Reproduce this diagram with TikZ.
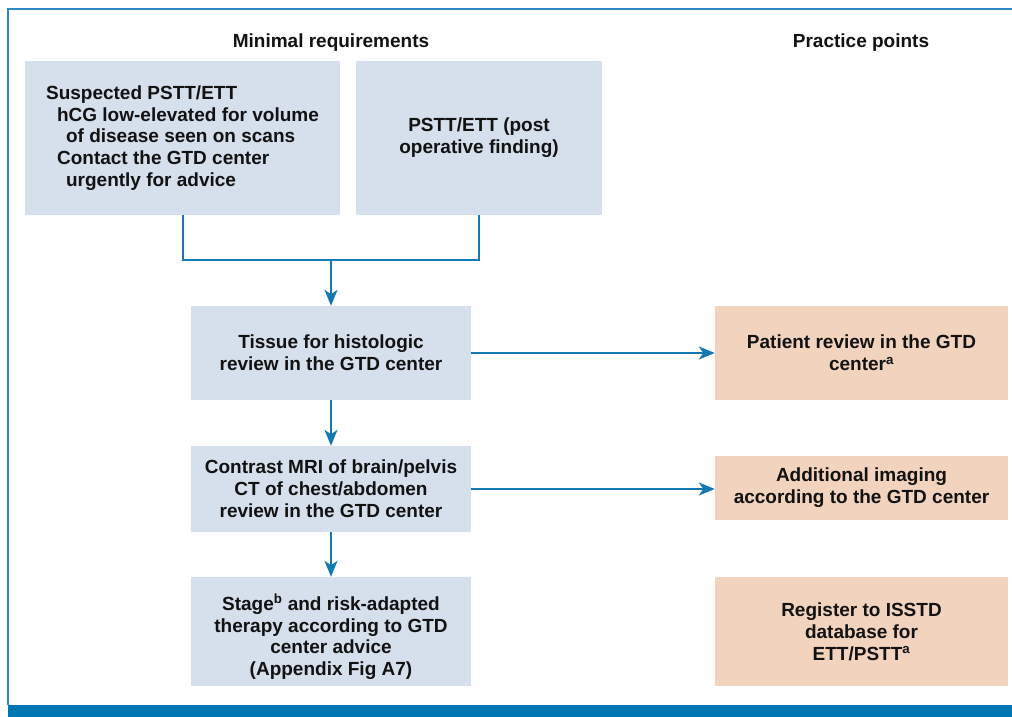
\documentclass[tikz,border=0pt]{standalone}
\usepackage{fontspec}
\setmainfont{Liberation Sans}
\usetikzlibrary{arrows.meta}
\definecolor{framec}{HTML}{2A8BC2}
\definecolor{barc}{HTML}{0076B1}
\definecolor{linec}{HTML}{1279B3}
\definecolor{bluebox}{HTML}{D6DFEC}
\definecolor{peachbox}{HTML}{F2D3BE}
\tikzset{
  txt/.style={font=\fontsize{19}{21.8}\selectfont\bfseries, text=black!93, inner sep=0pt},
  bbox/.style={txt, fill=bluebox, align=center},
  pbox/.style={txt, fill=peachbox, align=center},
  conn/.style={draw=linec, line width=2pt},
  arr/.style={conn, -{Stealth[length=16pt,width=13pt,inset=4.5pt]}},
}
\begin{document}
\begin{tikzpicture}[x=1pt,y=-1pt]
\useasboundingbox (0,0) rectangle (1012,717);
% frame
\fill[barc] (8,705) rectangle (1012,717);
\draw[framec, line width=1.5pt] (8,705) -- (8,9) -- (1012,9);
% titles
\node[txt] (t1) at (331,43) {Minimal requirements};
\node[txt] (t2) at (861,43) {Practice points};
% boxes
\node[bbox, align=left, minimum width=315pt, minimum height=154pt] (A) at (182.5,138)
  {Suspected PSTT/ETT\\
   \hspace*{11pt}hCG low-elevated for volume\\
   \hspace*{20pt}of disease seen on scans\\
   \hspace*{11pt}Contact the GTD center\\
   \hspace*{20pt}urgently for advice};
\node[bbox, minimum width=246pt, minimum height=154pt] (B) at (479,138)
  {PSTT/ETT (post\\operative finding)};
\node[bbox, minimum width=280pt, minimum height=94pt] (C) at (331,353)
  {Tissue for histologic\\review in the GTD center};
\node[pbox, minimum width=293pt, minimum height=94pt] (D) at (861.5,353)
  {Patient review in the GTD\\center\textsuperscript{a}};
\node[bbox, minimum width=280pt, minimum height=86pt] (E) at (331,489)
  {Contrast MRI of brain/pelvis\\CT of chest/abdomen\\review in the GTD center};
\node[pbox, minimum width=293pt, minimum height=64pt] (F) at (861.5,488)
  {Additional imaging\\according to the GTD center};
\node[bbox, minimum width=280pt, minimum height=109pt] (G) at (331,631.5) {};
\node[txt, align=center] (Gt) at (331,637)
  {Stage\textsuperscript{b} and risk-adapted\\therapy according to GTD\\center advice\\(Appendix Fig A7)};
\node[pbox, minimum width=293pt, minimum height=109pt] (H) at (861.5,631.5)
  {Register to ISSTD\\database for\\ETT/PSTT\textsuperscript{a}};
% connectors
\coordinate (J) at (331,260);
\draw[conn] (A.south) |- (J) -| (B.south);
\draw[arr] (J) -- (C.north);
\draw[arr] (C.east) -- (D.west);
\draw[arr] (C.south) -- (E.north);
\draw[arr] (E.east) -- (E.east -| F.west);
\draw[arr] (E.south) -- (G.north);
\end{tikzpicture}
\end{document}
